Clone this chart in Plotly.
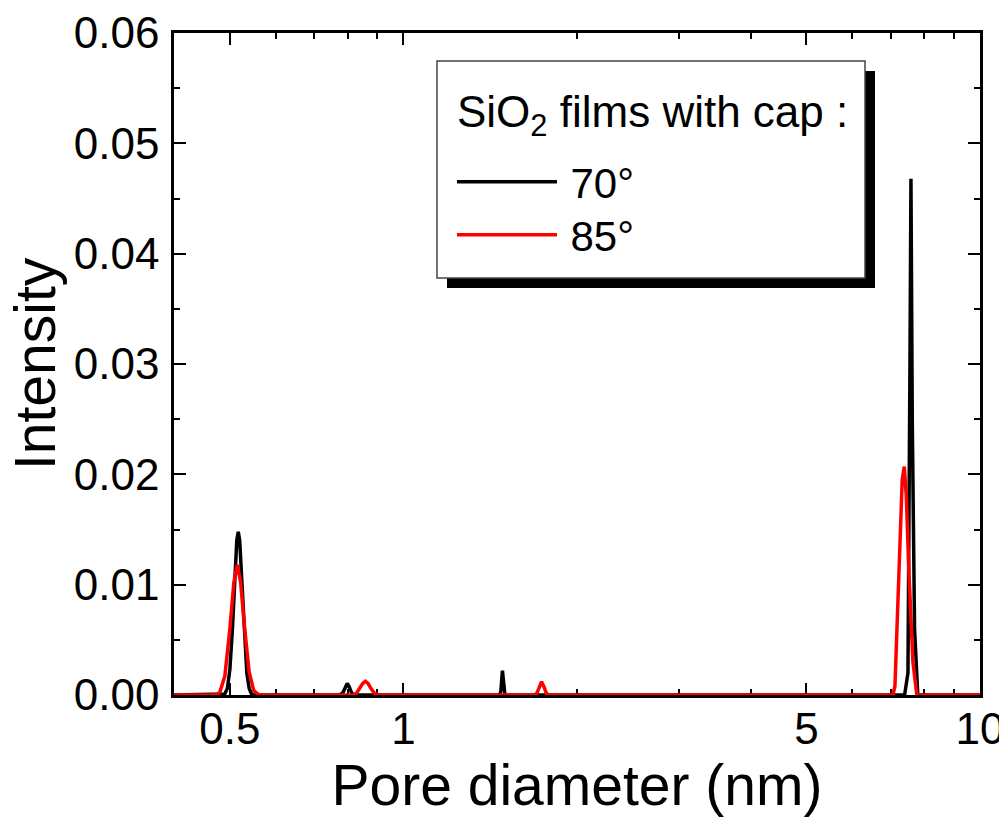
import plotly.graph_objects as go

# ---- data ----
x_70 = [0.40, 0.490, 0.495, 0.500, 0.505, 0.510, 0.514, 0.517, 0.520, 0.525, 0.530, 0.535, 0.540, 0.545, 0.550,
        0.775, 0.785, 0.792, 0.799, 0.806, 0.813, 0.822,
        1.470, 1.476, 1.481, 1.485, 1.489, 1.494, 1.500,
        7.40, 7.50, 7.56, 7.59, 7.63, 7.70, 7.80, 10.0]
y_70 = [0.0, 0.0001, 0.0006, 0.0023, 0.0059, 0.0108, 0.0140, 0.0148, 0.0140, 0.0099, 0.0052, 0.0020, 0.0006, 0.0001, 0.0,
        0.0, 0.0002, 0.0007, 0.00105, 0.0007, 0.0002, 0.0,
        0.0, 0.0004, 0.0016, 0.0022, 0.0016, 0.0004, 0.0,
        0.0, 0.002, 0.030, 0.0468, 0.025, 0.006, 0.0, 0.0]

x_85 = [0.40, 0.470, 0.480, 0.490, 0.500, 0.508, 0.515, 0.522, 0.530, 0.540, 0.550, 0.560, 0.570,
        0.820, 0.830, 0.840, 0.850, 0.859, 0.868, 0.878, 0.890, 0.905,
        1.690, 1.705, 1.718, 1.736, 1.754, 1.768, 1.785,
        7.06, 7.12, 7.26, 7.33, 7.39, 7.45, 7.53, 7.65, 7.77, 10.0]
y_85 = [0.0, 0.0, 0.0002, 0.0017, 0.0060, 0.0102, 0.0118, 0.0102, 0.0062, 0.0021, 0.0004, 0.00005, 0.0,
        0.0, 0.0002, 0.0006, 0.00105, 0.00125, 0.00105, 0.0006, 0.00018, 0.0,
        0.0, 0.0002, 0.0007, 0.0012, 0.0007, 0.0002, 0.0,
        0.0, 0.0008, 0.013, 0.0195, 0.0207, 0.018, 0.011, 0.003, 0.0, 0.0]

x_tickvals = [0.5, 1, 5, 10]
x_ticktext = ["0.5", "1", "5", "10"]
x_minor = [0.6, 0.7, 0.8, 0.9, 2, 3, 4, 6, 7, 8, 9]

x_title = "Pore diameter (nm)"
y_title = "Intensity"
legend_title = "SiO<sub>2</sub> films with cap :"

FONT = "Liberation Sans, Arial, sans-serif"

# The page body has an 8 px margin: figure sized/offset to compensate.
OFF = 8
W, H = 1007 - OFF, 835 - OFF
PL, PR, PT, PB = 174, 980, 33, 695   # plot area in window pixels


def px(xw):
    return (xw - PL) / (PR - PL)


def py(yw):
    return (PB - yw) / (PB - PT)


fig = go.Figure()
fig.add_trace(go.Scatter(x=x_70, y=y_70, mode="lines", name="\u200970°", legend="legend",
                         line=dict(color="black", width=3.5), cliponaxis=False))
fig.add_trace(go.Scatter(x=x_85, y=y_85, mode="lines", name="\u200985°", legend="legend2",
                         line=dict(color="red", width=3.5), cliponaxis=False))

axis_common = dict(showline=True, linecolor="black", linewidth=2.5, mirror="allticks",
                   ticks="inside", ticklen=12, tickwidth=2, tickcolor="black",
                   showgrid=False, zeroline=False, layer="below traces", automargin=False,
                   ticklabeloverflow="allow",
                   tickfont=dict(family=FONT, size=44, color="black"))

fig.update_xaxes(type="log", range=[-0.39794, 1.0], tickmode="array",
                 tickvals=x_tickvals, ticktext=x_ticktext,
                 minor=dict(tickmode="array", tickvals=x_minor, ticks="inside",
                            ticklen=6, tickwidth=2, tickcolor="black"),
                 title=dict(text=x_title, font=dict(family=FONT, size=57, color="black"),
                            standoff=14),
                 ticklabelstandoff=-7,
                 **axis_common)
fig.update_yaxes(range=[0, 0.06], dtick=0.01, tick0=0, tickformat=".2f",
                 minor=dict(dtick=0.005, ticks="inside", ticklen=6, tickwidth=2, tickcolor="black"),
                 ticklabelstandoff=3,
                 **axis_common)

# y-axis title placed precisely as rotated text
fig.add_annotation(text=y_title, xref="paper", yref="paper", x=px(35), y=py(364),
                   xanchor="center", yanchor="middle", textangle=-90, showarrow=False,
                   font=dict(family=FONT, size=57, color="black"))

# legend frame with drop shadow
fig.add_shape(type="rect", xref="paper", yref="paper", x0=px(447), x1=px(875), y0=py(288), y1=py(71),
              fillcolor="black", line=dict(width=0), layer="above")
fig.add_shape(type="rect", xref="paper", yref="paper", x0=px(437), x1=px(865), y0=py(278), y1=py(61),
              fillcolor="white", line=dict(color="#444444", width=1.5), layer="above")
fig.add_annotation(text=legend_title, xref="paper", yref="paper", x=px(455), y=py(115),
                   xanchor="left", yanchor="middle", showarrow=False,
                   font=dict(family=FONT, size=44, color="black"))

leg_common = dict(xanchor="left", yanchor="middle", bgcolor="rgba(0,0,0,0)", borderwidth=0,
                  font=dict(family=FONT, size=42, color="black"), itemwidth=100)

fig.update_layout(
    width=W, height=H,
    margin=dict(l=PL - OFF, r=W + OFF - PR, t=PT - OFF, b=H + OFF - PB),
    paper_bgcolor="white", plot_bgcolor="white",
    font=dict(family=FONT, size=42, color="black"),
    showlegend=True,
    legend=dict(x=px(452), y=py(182), **leg_common),
    legend2=dict(x=px(452), y=py(235), **leg_common),
)

fig.write_html("out.html")
